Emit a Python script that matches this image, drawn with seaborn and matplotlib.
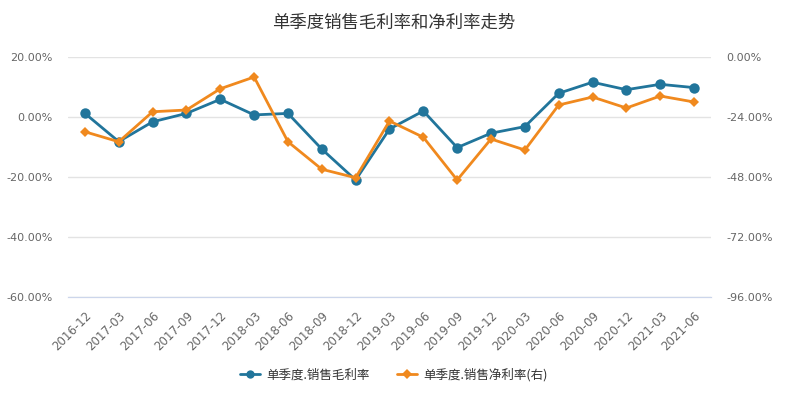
import seaborn as sns
import matplotlib.pyplot as plt
import matplotlib.ticker as mticker
from matplotlib.lines import Line2D
import pandas as pd

# data
quarters = ["2016-12", "2017-03", "2017-06", "2017-09", "2017-12", "2018-03",
            "2018-06", "2018-09", "2018-12", "2019-03", "2019-06", "2019-09",
            "2019-12", "2020-03", "2020-06", "2020-09", "2020-12", "2021-03",
            "2021-06"]
gross_margin = [1.2, -8.2, -1.6, 1.2, 5.9, 0.7, 1.2, -10.7, -21.0, -4.0,
                2.0, -10.2, -5.4, -3.2, 7.9, 11.6, 9.1, 10.9, 9.8]
net_margin = [-29.9, -33.9, -21.9, -21.2, -12.7, -8.0, -33.9, -44.9, -48.3, -25.6,
              -32.1, -49.2, -32.8, -37.2, -19.2, -16.0, -20.4, -15.6, -18.0]

gm_name = "单季度.销售毛利率"
nm_name = "单季度.销售净利率(右)"

df = pd.DataFrame({"quarter": quarters, "gm": gross_margin, "nm": net_margin})

blue = "#21759b"
orange = "#f0891e"
grey = "#666666"

sns.set_style("white")
plt.rcParams["font.family"] = ["Noto Sans CJK SC", "DejaVu Sans"]

fig = plt.figure(figsize=(7.87, 3.94), dpi=100)
ax = fig.add_axes([0.0864, 0.2462, 0.817, 0.6091])

sns.lineplot(data=df, x="quarter", y="gm", ax=ax, color=blue, marker="o",
             markersize=7.5, markeredgewidth=0, linewidth=2, sort=False)
ax2 = ax.twinx()
sns.lineplot(data=df, x="quarter", y="nm", ax=ax2, color=orange, marker="D",
             markersize=5, markeredgewidth=0, linewidth=2, sort=False)

n = len(quarters)
ax.set_xlim(-0.5, n - 0.5)
ax.set_ylim(-60, 20)
ax2.set_ylim(-96, 0)
ax.set_yticks([-60, -40, -20, 0, 20])
ax2.set_yticks([-96, -72, -48, -24, 0])
ax.yaxis.set_major_formatter(mticker.FuncFormatter(lambda v, p: f"{v:.2f}%"))
ax2.yaxis.set_major_formatter(mticker.FuncFormatter(lambda v, p: f"{v:.2f}%"))

ax.grid(axis="y", color="#e3e3e3", linewidth=1)
ax.set_axisbelow(True)
for a in (ax, ax2):
    for s in ["top", "left", "right"]:
        a.spines[s].set_visible(False)
    a.spines["bottom"].set_color("#ccd6eb")
    a.set_xlabel("")
    a.set_ylabel("")
    a.tick_params(axis="y", length=0, labelsize=8, labelcolor=grey, pad=11)
    for lab in a.get_yticklabels():
        lab.set_family("DejaVu Sans")

ax.set_xticks(range(n))
ax.set_xticklabels(quarters, rotation=45, ha="right", rotation_mode="anchor",
                   fontsize=8.5, color=grey, family="DejaVu Sans")
ax.tick_params(axis="x", which="major", length=0, pad=9)
ax.set_xticks([i - 0.5 for i in range(n + 1)], minor=True)
ax.tick_params(axis="x", which="minor", length=7, color="#ccd6eb")

fig.suptitle("单季度销售毛利率和净利率走势", x=0.5, y=0.965, fontsize=12.5, color="#333333")

handles = [
    Line2D([], [], color=blue, marker="o", markersize=6, linewidth=2, markeredgewidth=0),
    Line2D([], [], color=orange, marker="D", markersize=5, linewidth=2, markeredgewidth=0),
]
fig.legend(handles, [gm_name, nm_name], loc="center", bbox_to_anchor=(0.5, 0.048),
           ncol=2, frameon=False, fontsize=9, handlelength=1.6, columnspacing=2.2,
           handletextpad=0.5, labelcolor="#333333")

fig.savefig("out.png", dpi=100)
plt.close(fig)
